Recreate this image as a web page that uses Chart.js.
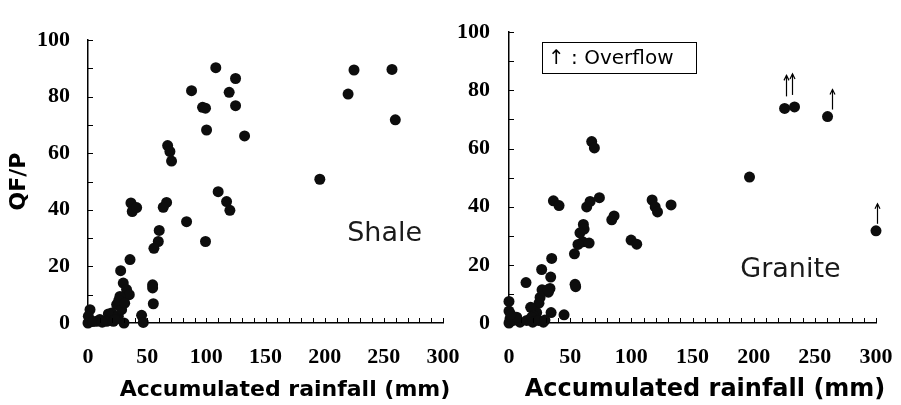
<!DOCTYPE html>
<html><head><meta charset="utf-8">
<script src="https://cdn.jsdelivr.net/npm/chart.js@4/dist/chart.umd.min.js"></script>
<style>
html,body{margin:0;padding:0;background:#fff;}
#wrap{position:relative;width:901px;height:405px;overflow:hidden;background:#fff;}
canvas{position:absolute;top:0;}
#c1{left:0;}
#c2{left:450px;}
</style></head><body>
<div id="wrap"><canvas id="c1" width="485" height="405"></canvas><canvas id="c2" width="468" height="405"></canvas></div>
<script>
const xTicks = [0, 50, 100, 150, 200, 250, 300];
const yTicks = [0, 20, 40, 60, 80, 100];

const shaleX = [108,87.5,96.8,99.3,100.2,124.7,119.3,124.7,132.3,224.8,219.8,256.9,259.7,195.9,67.3,69.2,70.6,110,117.1,119.9,83.3,99.3,66.4,63.6,60.2,59.4,55.7,36.3,37.4,41.1,35.5,27.6,54.6,54.6,55.2,45.3,46.7,29.8,32.6,34.9,27,24.2,20,17.2,1.7,0.3,0,7.3,15.8,10,21.4,30.4,25.6,22.8,28.4,4,12,26,31];
const shaleY = [90.2,82.1,76.2,75.9,68.2,86.4,81.5,76.8,66.1,89.4,80.9,89.6,71.8,50.8,62.7,60.6,57.2,46.4,42.9,39.8,35.8,28.8,42.6,40.9,32.7,28.8,26.4,42.4,39.4,40.8,22.4,18.5,13.5,12.4,6.8,2.7,0.2,14.1,11.8,10,9.4,6.5,3.5,3.2,4.7,2.4,0,0.6,0.6,1.2,0.6,0,2.4,1.2,4.7,0.5,0.3,8,7];

const graniteX = [225.3,233.4,260.4,300,196.6,67.6,69.8,36.3,40.9,63.5,66.3,73.9,84,85.9,117,119.5,121.4,132.5,99.8,104.4,60.8,61.4,60.3,56.4,53.5,65.5,54,54.5,45,34.9,34.1,33.5,32.2,26.7,13.9,34.4,25.4,24.5,22.6,17.7,19.9,28.1,0,0,0.8,0,3.5,9,6.3,1.4,14.5,18.5,19.4,24,29.4,27,31.9,58];
const graniteY = [73.8,74.3,71.0,31.7,50.2,62.4,60.2,42.0,40.4,39.9,41.8,43.1,35.5,36.8,42.3,39.9,38.2,40.6,28.5,27.1,33.9,32.3,27.9,27,23.8,27.5,13.3,12.5,2.8,22.2,15.8,11.9,10.6,18.4,13.9,3.6,8.8,6.8,3.6,5.4,2.5,0.3,7.4,4.1,1.4,0,0.9,0.3,2,3,0.9,2,0.3,0.9,1,11.4,11.4,31];

// indices of granite points marked as overflow
const graniteOverflow = [0, 1, 2, 3];

const deco = {
  id: 'deco',
  afterDraw(chart, args, o) {
    const {ctx, chartArea: ca, scales: {x, y}} = chart;
    ctx.save();
    ctx.strokeStyle = '#000';
    ctx.lineWidth = 1;
    for (let v = 10; v <= 100; v += 10) {
      const py = Math.round(y.getPixelForValue(v)) + 0.5;
      ctx.beginPath(); ctx.moveTo(ca.left, py); ctx.lineTo(ca.left + 5, py); ctx.stroke();
    }
    for (let v = 10; v <= 300; v += 10) {
      const px = Math.round(x.getPixelForValue(v)) + 0.5;
      ctx.beginPath(); ctx.moveTo(px, ca.bottom); ctx.lineTo(px, ca.bottom - 5); ctx.stroke();
    }
    ctx.fillStyle = '#000';
    ctx.textBaseline = 'middle';
    ctx.textAlign = 'center';
    ctx.font = 'bold ' + o.titleSize + 'px "DejaVu Sans"';
    ctx.fillText(o.xTitle, (ca.left + ca.right) / 2 + o.titleShift, o.titleY);
    ctx.textAlign = 'left';
    ctx.font = '27px "DejaVu Sans"';
    ctx.fillStyle = '#1a1a1a';
    ctx.fillText(o.label, x.getPixelForValue(o.labelX), y.getPixelForValue(o.labelY));
    if (o.arrows) {
      const meta = chart.getDatasetMeta(0);
      ctx.lineWidth = 1.2;
      ctx.strokeStyle = '#000';
      o.arrows.forEach(a => {
        const pt = meta.data[a.i];
        const ax = Math.round(pt.x + a.dx) + 0.5;
        const yb = pt.y - a.gap, yt = yb - a.len;
        ctx.beginPath(); ctx.moveTo(ax, yb); ctx.lineTo(ax, yt); ctx.stroke();
        ctx.beginPath(); ctx.moveTo(ax - 2.5, yt + 5); ctx.lineTo(ax, yt); ctx.lineTo(ax + 2.5, yt + 5); ctx.stroke();
      });
    }
    if (o.box) {
      const b = o.box;
      ctx.lineWidth = 1;
      ctx.strokeStyle = '#000';
      ctx.strokeRect(b.x + 0.5, b.y + 0.5, b.w, b.h);
      ctx.fillStyle = '#000';
      ctx.font = '20px "DejaVu Sans"';
      ctx.textAlign = 'left';
      ctx.fillText(b.text, b.x + 6, b.y + b.h / 2 + 1);
    }
    ctx.restore();
  }
};

function makeChart(id, xs, ys, cfg) {
  const pts = xs.map((v, i) => ({x: v, y: ys[i]}));
  return new Chart(document.getElementById(id), {
    type: 'scatter',
    data: {datasets: [{data: pts, backgroundColor: '#0d0d0d', borderWidth: 0, pointRadius: 5.5, clip: false}]},
    options: {
      responsive: false, animation: false, devicePixelRatio: 1,
      layout: {padding: {left: 0, top: cfg.top, right: cfg.right, bottom: 0}},
      plugins: {legend: {display: false}, tooltip: {enabled: false}, deco: cfg.deco},
      scales: {
        x: {
          type: 'linear', min: 0, max: 300,
          afterBuildTicks: s => { s.ticks = xTicks.map(v => ({value: v})); },
          afterFit: s => { s.height = 82; },
          grid: {display: false, drawTicks: false},
          border: {display: true, color: '#000', width: 1.5},
          ticks: {color: '#000', padding: 21, maxRotation: 0, autoSkip: false,
                  font: {family: '"Liberation Serif"', weight: 'bold', size: 22}}
        },
        y: {
          type: 'linear', min: 0, max: 100,
          afterBuildTicks: s => { s.ticks = yTicks.map(v => ({value: v})); },
          afterFit: s => { s.width = cfg.yWidth; },
          grid: {display: false, drawTicks: false},
          border: {display: true, color: '#000', width: 1.5},
          ticks: {color: '#000', padding: cfg.yPad,
                  font: {family: '"Liberation Serif"', weight: 'bold', size: 22}},
          title: cfg.yTitle ? {display: true, text: cfg.yTitle, color: '#000', padding: {top: 6, bottom: 0},
                  font: {family: '"DejaVu Sans"', weight: 'bold', size: 22}} : {display: false}
        }
      }
    },
    plugins: [deco]
  });
}

makeChart('c1', shaleX, shaleY, {
  top: 40, right: 42, yWidth: 88, yPad: 18, yTitle: 'QF/P',
  deco: {xTitle: 'Accumulated rainfall (mm)', titleSize: 22, titleShift: 19.5, titleY: 390,
         label: 'Shale', labelX: 219, labelY: 31.4}
});

makeChart('c2', graniteX, graniteY, {
  top: 15, right: 42, yWidth: 59, yPad: 19, yTitle: null,
  deco: {xTitle: 'Accumulated rainfall (mm)', titleSize: 24, titleShift: 12.5, titleY: 390,
         label: 'Granite', labelX: 189, labelY: 18.2,
         arrows: [
           {i: graniteOverflow[0], dx: 1, gap: 12, len: 21},
           {i: graniteOverflow[1], dx: -3, gap: 12, len: 21},
           {i: graniteOverflow[2], dx: 4, gap: 7, len: 20},
           {i: graniteOverflow[3], dx: 1, gap: 7, len: 20}
         ],
         box: {x: 92, y: 42, w: 154, h: 31, text: '\u2191 : Overflow'}}
});
</script>
</body></html>
